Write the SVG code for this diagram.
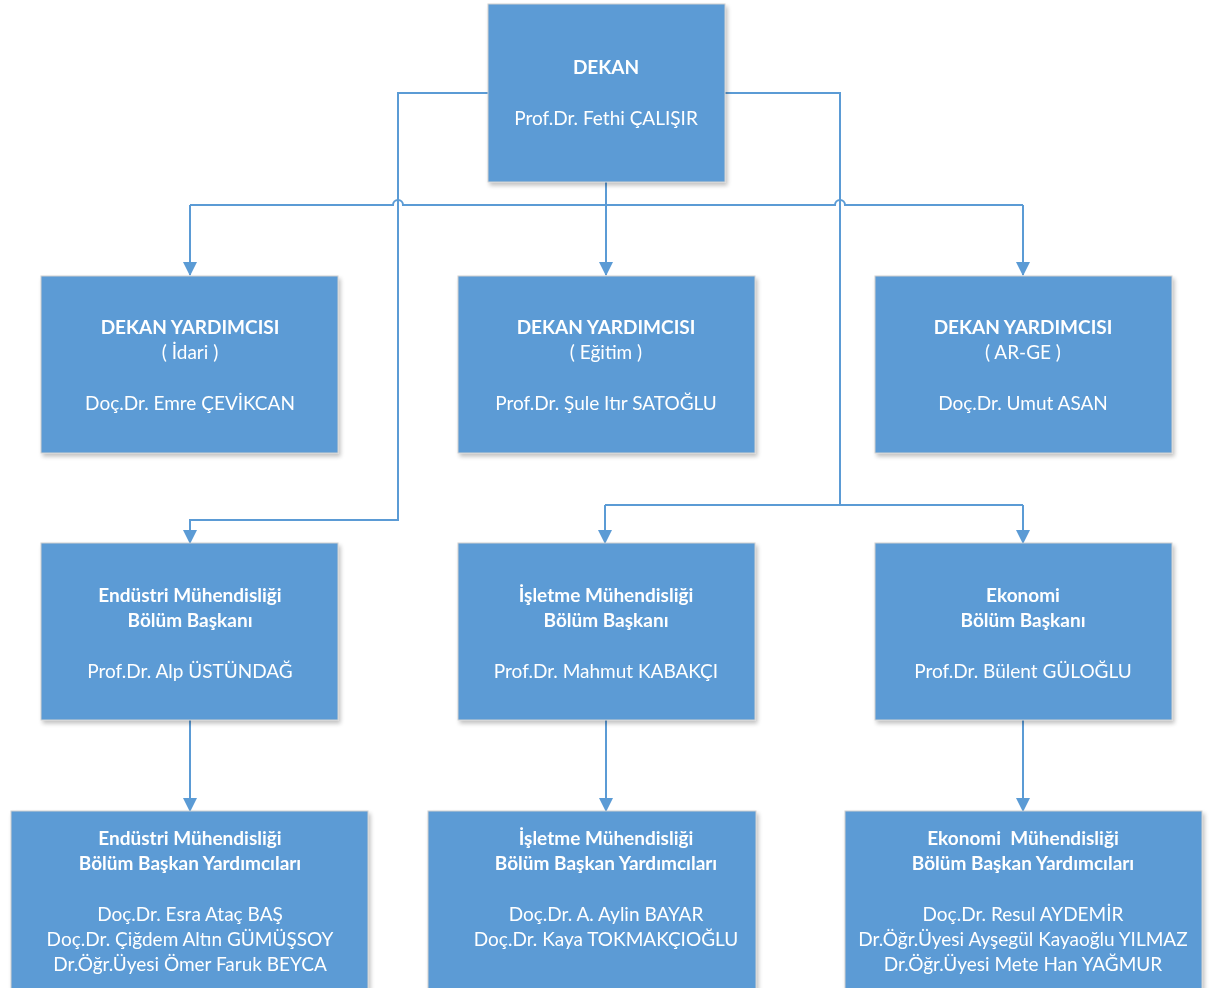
<svg xmlns="http://www.w3.org/2000/svg" width="1209" height="988" viewBox="0 0 1209 988">
<style>
.box{fill:#5B9BD5;stroke:#d0d0d0;stroke-width:1}
.t{font-family:Lato,"Liberation Sans",sans-serif;font-size:19px;fill:#fff;text-anchor:middle}
.b{font-weight:bold}
.ln{fill:none;stroke:#5B9BD5;stroke-width:2}
</style>
<defs>
<marker id="ar" viewBox="0 0 14 14" refX="13" refY="7" markerWidth="14" markerHeight="14" markerUnits="userSpaceOnUse" orient="auto">
<path d="M0,0 L14,7 L0,14 Z" fill="#5B9BD5"/>
</marker>
<filter id="ds" x="-5%" y="-5%" width="115%" height="115%">
<feGaussianBlur in="SourceAlpha" stdDeviation="2"/>
<feOffset dx="2" dy="3"/>
<feComponentTransfer><feFuncA type="linear" slope="0.25"/></feComponentTransfer>
<feMerge><feMergeNode/><feMergeNode in="SourceGraphic"/></feMerge>
</filter>
</defs>
<rect width="1209" height="988" fill="#fff"/>
<g id="connectors">
<path class="ln" d="M488,93 H398 V520 H190 V543" marker-end="url(#ar)"/>
<path class="ln" d="M725,93 H840 V505"/>
<path class="ln" d="M605,505 H1023"/>
<path class="ln" d="M605,505 V543" marker-end="url(#ar)"/>
<path class="ln" d="M1023,505 V543" marker-end="url(#ar)"/>
<path class="ln" d="M606,182 V275" marker-end="url(#ar)"/>
<path class="ln" d="M190,205 H393 A5,5 0 0 1 403,205 H835 A5,5 0 0 1 845,205 H1023"/>
<path class="ln" d="M190,205 V275" marker-end="url(#ar)"/>
<path class="ln" d="M1023,205 V275" marker-end="url(#ar)"/>
<path class="ln" d="M190,720 V811" marker-end="url(#ar)"/>
<path class="ln" d="M606,720 V811" marker-end="url(#ar)"/>
<path class="ln" d="M1023,720 V811" marker-end="url(#ar)"/>
</g>
<g id="dekan" filter="url(#ds)">
<rect class="box" x="488" y="4" width="237" height="178"/>
<text class="t b" x="606" y="74">DEKAN</text>
<text class="t" x="606" y="125">Prof.Dr. Fethi ÇALIŞIR</text>
</g>
<g id="yrd-idari" filter="url(#ds)">
<rect class="box" x="41" y="276" width="297" height="177"/>
<text class="t b" x="190" y="334">DEKAN YARDIMCISI</text>
<text class="t" x="190" y="359">( İdari )</text>
<text class="t" x="190" y="410">Doç.Dr. Emre ÇEVİKCAN</text>
</g>
<g id="yrd-egitim" filter="url(#ds)">
<rect class="box" x="458" y="276" width="297" height="177"/>
<text class="t b" x="606" y="334">DEKAN YARDIMCISI</text>
<text class="t" x="606" y="359">( Eğitim )</text>
<text class="t" x="606" y="410">Prof.Dr. Şule Itır SATOĞLU</text>
</g>
<g id="yrd-arge" filter="url(#ds)">
<rect class="box" x="875" y="276" width="297" height="177"/>
<text class="t b" x="1023" y="334">DEKAN YARDIMCISI</text>
<text class="t" x="1023" y="359">( AR-GE )</text>
<text class="t" x="1023" y="410">Doç.Dr. Umut ASAN</text>
</g>
<g id="bb-endustri" filter="url(#ds)">
<rect class="box" x="41" y="543" width="297" height="177"/>
<text class="t b" x="190" y="602">Endüstri Mühendisliği</text>
<text class="t b" x="190" y="627">Bölüm Başkanı</text>
<text class="t" x="190" y="678">Prof.Dr. Alp ÜSTÜNDAĞ</text>
</g>
<g id="bb-isletme" filter="url(#ds)">
<rect class="box" x="458" y="543" width="297" height="177"/>
<text class="t b" x="606" y="602">İşletme Mühendisliği</text>
<text class="t b" x="606" y="627">Bölüm Başkanı</text>
<text class="t" x="606" y="678">Prof.Dr. Mahmut KABAKÇI</text>
</g>
<g id="bb-ekonomi" filter="url(#ds)">
<rect class="box" x="875" y="543" width="297" height="177"/>
<text class="t b" x="1023" y="602">Ekonomi</text>
<text class="t b" x="1023" y="627">Bölüm Başkanı</text>
<text class="t" x="1023" y="678">Prof.Dr. Bülent GÜLOĞLU</text>
</g>
<g id="by-endustri" filter="url(#ds)">
<rect class="box" x="11" y="811" width="357" height="190"/>
<text class="t b" x="190" y="845">Endüstri Mühendisliği</text>
<text class="t b" x="190" y="870">Bölüm Başkan Yardımcıları</text>
<text class="t" x="190" y="921">Doç.Dr. Esra Ataç BAŞ</text>
<text class="t" x="190" y="946">Doç.Dr. Çiğdem Altın GÜMÜŞSOY</text>
<text class="t" x="190" y="971">Dr.Öğr.Üyesi Ömer Faruk BEYCA</text>
</g>
<g id="by-isletme" filter="url(#ds)">
<rect class="box" x="428" y="811" width="328" height="190"/>
<text class="t b" x="606" y="845">İşletme Mühendisliği</text>
<text class="t b" x="606" y="870">Bölüm Başkan Yardımcıları</text>
<text class="t" x="606" y="921">Doç.Dr. A. Aylin BAYAR</text>
<text class="t" x="606" y="946">Doç.Dr. Kaya TOKMAKÇIOĞLU</text>
</g>
<g id="by-ekonomi" filter="url(#ds)">
<rect class="box" x="845" y="811" width="357" height="190"/>
<text class="t b" x="1023" y="845" xml:space="preserve">Ekonomi  Mühendisliği</text>
<text class="t b" x="1023" y="870">Bölüm Başkan Yardımcıları</text>
<text class="t" x="1023" y="921">Doç.Dr. Resul AYDEMİR</text>
<text class="t" x="1023" y="946">Dr.Öğr.Üyesi Ayşegül Kayaoğlu YILMAZ</text>
<text class="t" x="1023" y="971">Dr.Öğr.Üyesi Mete Han YAĞMUR</text>
</g>
</svg>
